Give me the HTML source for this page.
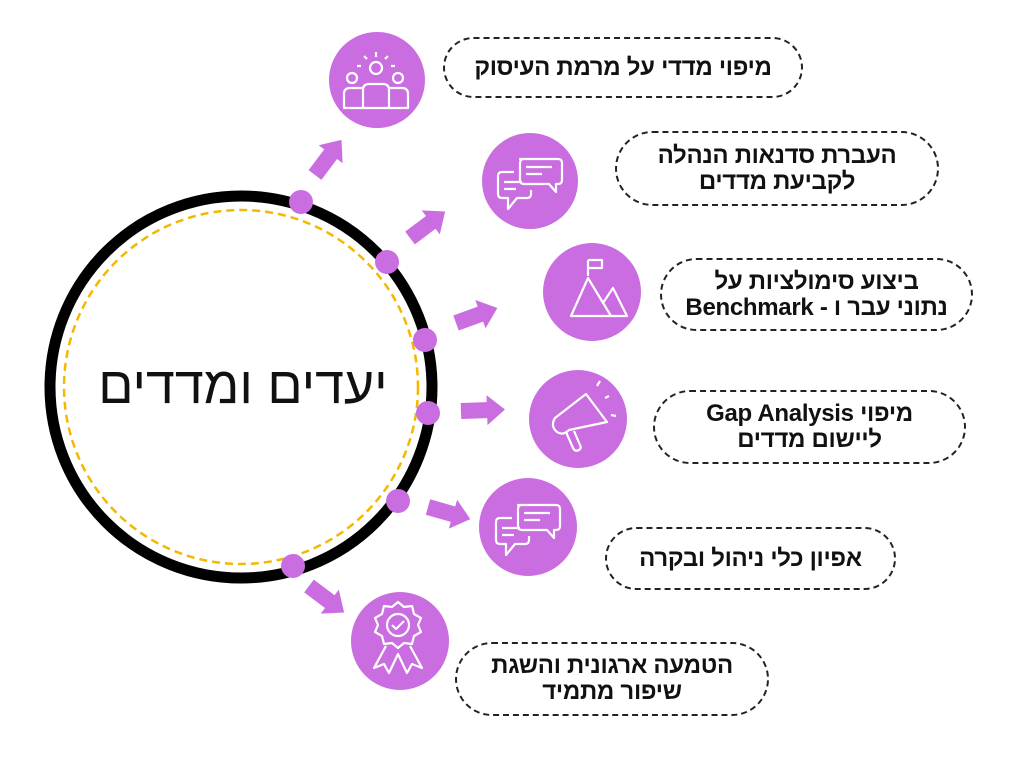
<!DOCTYPE html>
<html><head><meta charset="utf-8"><style>
body{margin:0;width:1024px;height:768px;background:#fff;overflow:hidden;position:relative;font-family:"Liberation Sans Narrow","Liberation Sans","Noto Sans CJK SC",sans-serif}
.p{position:absolute;border:2px dashed #222;border-radius:40px;box-sizing:border-box;display:flex;align-items:center;justify-content:center;text-align:center;direction:rtl;font-weight:bold;font-size:24px;line-height:26px;color:#111;letter-spacing:-0.3px}
.c{position:absolute;left:88px;top:356px;width:310px;text-align:center;direction:rtl;font-family:"Liberation Sans",sans-serif;font-size:52px;color:#111}
</style></head><body>
<svg width="1024" height="768" style="position:absolute;left:0;top:0">
<defs><path id="ar" d="M0,-8 L26,-8 L26,-15 L44,0 L26,15 L26,8 L0,8 Z" fill="#c96de0"/></defs>
<circle cx="241" cy="387" r="191" fill="#fff" stroke="#000" stroke-width="11"/>
<circle cx="241" cy="387" r="177" fill="none" stroke="#f5b800" stroke-width="2.5" stroke-dasharray="8,5"/>
<g fill="#c96de0">
<circle cx="301" cy="202" r="12"/><circle cx="387" cy="262" r="12"/><circle cx="425" cy="340" r="12"/>
<circle cx="428" cy="413" r="12"/><circle cx="398" cy="501" r="12"/><circle cx="293" cy="566" r="12"/>
<circle cx="377" cy="80" r="48"/><circle cx="530" cy="181" r="48"/><circle cx="592" cy="292" r="49"/>
<circle cx="578" cy="419" r="49"/><circle cx="528" cy="527" r="49"/><circle cx="400" cy="641" r="49"/>
</g>
<use href="#ar" transform="translate(315,175) rotate(-53)"/>
<use href="#ar" transform="translate(410,238) rotate(-37)"/>
<use href="#ar" transform="translate(456,323) rotate(-20)"/>
<use href="#ar" transform="translate(461,411) rotate(-2)"/>
<use href="#ar" transform="translate(428,507) rotate(16)"/>
<use href="#ar" transform="translate(309,586) rotate(37)"/>
<g fill="none" stroke="#fff" stroke-width="2.2" stroke-linejoin="round">
<circle cx="376" cy="68" r="6"/><circle cx="352" cy="78" r="5"/><circle cx="398" cy="78" r="5"/>
<path d="M363,108 V90 q0,-6 6,-6 h14 q6,0 6,6 V108 Z M363,108 H344 V94 q0,-6 6,-6 h13 M389,88 h13 q6,0 6,6 V108 H389"/>
<path d="M376,52 v5 M364,56 l3,3 M388,56 l-3,3 M357,66 h4 M391,66 h4"/>
<path d="M520,159 h38 q4,0 4,4 v17 q0,4 -4,4 h-2 v8 l-7,-8 h-25 q-4,0 -4,-4 v-17 q0,-4 4,-4 Z M514,172 h-12 q-4,0 -4,4 v18 q0,4 4,4 h6 v11 l9,-11 h10 q4,0 4,-4 v-4"/>
<path d="M526,167 h26 M526,174 h16 M504,182 h18 M504,189 h12"/>
<path d="M588,260 V276 M588,260 h14 v8 h-14"/>
<path d="M571,316 L588,278 L611,316 Z M603,303 L613,288 L627,316 H611"/>
<path d="M555,418 q-5,8 2,14 q6,4 12,-2 l38,-8 l-21,-28 Z M566,432 l7,16 q2,4 6,2 q3,-2 1,-5 l-6,-14"/>
<path d="M597,386 l3,-5 M605,398 l4,-2 M611,415 l5,1"/>
<path d="M518,505 h38 q4,0 4,4 v17 q0,4 -4,4 h-2 v8 l-7,-8 h-25 q-4,0 -4,-4 v-17 q0,-4 4,-4 Z M512,518 h-12 q-4,0 -4,4 v18 q0,4 4,4 h6 v11 l9,-11 h10 q4,0 4,-4 v-4"/>
<path d="M524,513 h26 M524,520 h16 M502,528 h18 M502,535 h12"/>
<path d="M398,602 l6,5 8,-1 2,8 7,4 -3,7 3,7 -7,4 -2,8 -8,-1 -6,5 -6,-5 -8,1 -2,-8 -7,-4 3,-7 -3,-7 7,-4 2,-8 8,1 Z"/>
<circle cx="398" cy="625" r="11"/><path d="M392,625 l4,4 8,-8"/>
<path d="M386,646 l-12,22 10,-4 5,9 9,-19 9,19 5,-9 10,4 -12,-22"/>
</g>
</svg>
<div class="c">יעדים ומדדים</div>
<div class="p" style="left:443px;top:37px;width:360px;height:61px">מיפוי מדדי על מרמת העיסוק</div>
<div class="p" style="left:615px;top:131px;width:324px;height:75px">העברת סדנאות הנהלה<br>לקביעת מדדים</div>
<div class="p" style="left:660px;top:258px;width:313px;height:73px">ביצוע סימולציות על<br>נתוני עבר ו - Benchmark</div>
<div class="p" style="left:653px;top:390px;width:313px;height:74px">מיפוי Gap Analysis<br>ליישום מדדים</div>
<div class="p" style="left:605px;top:527px;width:291px;height:63px">אפיון כלי ניהול ובקרה</div>
<div class="p" style="left:455px;top:642px;width:314px;height:74px">הטמעה ארגונית והשגת<br>שיפור מתמיד</div>
</body></html>
